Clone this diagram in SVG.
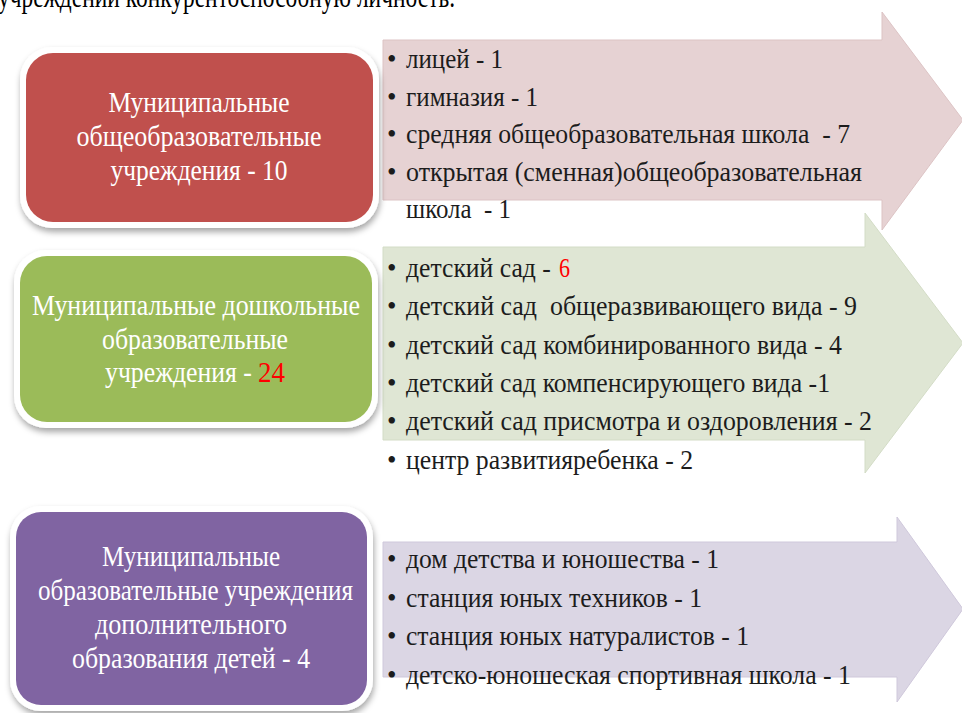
<svg xmlns="http://www.w3.org/2000/svg" width="962" height="713" viewBox="0 0 962 713">
  <defs>
    <filter id="shadow" x="-10%" y="-10%" width="120%" height="130%">
      <feDropShadow dx="1" dy="4" stdDeviation="3" flood-color="#000000" flood-opacity="0.35"/>
    </filter>
  </defs>
  <style>
    text { font-family: "Liberation Serif", "Times New Roman", serif; white-space: pre; }
    .title { font-size: 32px; fill: #000000; }
    .item { font-size: 28px; fill: #1c1c1c; }
    .bullet { font-size: 27px; fill: #1c1c1c; }
    .lbl { font-size: 29px; fill: #ffffff; }
    .num { fill: #ff0000; }
    .frame { fill: #ffffff; filter: url(#shadow); }
    .arrow-pink { fill: #e6d2d3; stroke: #dcc3c4; stroke-width: 1; }
    .arrow-green { fill: #dfe6d4; stroke: #d3dcc6; stroke-width: 1; }
    .arrow-purple { fill: #dbd6e4; stroke: #cfc8db; stroke-width: 1; }
  </style>

  <rect width="962" height="713" fill="#ffffff"/>

  <text class="title" x="-2" y="7" textLength="457" lengthAdjust="spacingAndGlyphs">учреждений конкурентоспособную личность.</text>

  <g id="connectors"/>

  <!-- Arrows (drawn bottom-up so the pink one lies on top) -->
  <g id="arrow-purple">
    <polygon class="arrow-purple" points="383,542 897,542 897,517 963,609 897,702 897,677 383,677"/>
    <text class="bullet" x="387" y="568">•</text>
    <text class="bullet" x="387" y="606.5">•</text>
    <text class="bullet" x="387" y="645">•</text>
    <text class="bullet" x="387" y="683.5">•</text>
    <text class="item" x="406" y="568" textLength="313" lengthAdjust="spacingAndGlyphs">дом детства и юношества - 1</text>
    <text class="item" x="406" y="606.5" textLength="296" lengthAdjust="spacingAndGlyphs">станция юных техников - 1</text>
    <text class="item" x="406" y="645" textLength="343" lengthAdjust="spacingAndGlyphs">станция юных натуралистов - 1</text>
    <text class="item" x="406" y="683.5" textLength="445" lengthAdjust="spacingAndGlyphs">детско-юношеская спортивная школа - 1</text>
  </g>

  <g id="arrow-green">
    <polygon class="arrow-green" points="383,247 865,247 865,213 963,343 865,473 865,440 383,440"/>
    <text class="bullet" x="387" y="277">•</text>
    <text class="bullet" x="387" y="315">•</text>
    <text class="bullet" x="387" y="353.5">•</text>
    <text class="bullet" x="387" y="392">•</text>
    <text class="bullet" x="387" y="430">•</text>
    <text class="bullet" x="387" y="468.5">•</text>
    <text class="item" transform="translate(406,277) scale(0.9,1)" x="0" y="0" textLength="161" lengthAdjust="spacingAndGlyphs">детский сад -</text>
    <text class="item num" x="559" y="277" textLength="11" lengthAdjust="spacingAndGlyphs">6</text>
    <text class="item" x="406" y="315" textLength="451" lengthAdjust="spacingAndGlyphs">детский сад  общеразвивающего вида - 9</text>
    <text class="item" x="406" y="353.5" textLength="436" lengthAdjust="spacingAndGlyphs">детский сад комбинированного вида - 4</text>
    <text class="item" x="406" y="392" textLength="424" lengthAdjust="spacingAndGlyphs">детский сад компенсирующего вида -1</text>
    <text class="item" x="406" y="430" textLength="466" lengthAdjust="spacingAndGlyphs">детский сад присмотра и оздоровления - 2</text>
    <text class="item" x="406" y="468.5" textLength="287" lengthAdjust="spacingAndGlyphs">центр развитияребенка - 2</text>
  </g>

  <g id="arrow-pink">
    <polygon class="arrow-pink" points="383,40 882,40 882,12 963,120 882,230 882,200 383,200"/>
    <text class="bullet" x="387" y="68">•</text>
    <text class="bullet" x="387" y="105.5">•</text>
    <text class="bullet" x="387" y="143">•</text>
    <text class="bullet" x="387" y="180.5">•</text>
    <text class="item" x="406" y="68" textLength="97" lengthAdjust="spacingAndGlyphs">лицей - 1</text>
    <text class="item" x="406" y="105.5" textLength="132" lengthAdjust="spacingAndGlyphs">гимназия - 1</text>
    <text class="item" x="406" y="143" textLength="444" lengthAdjust="spacingAndGlyphs">средняя общеобразовательная школа  - 7</text>
    <text class="item" x="406" y="180.5" textLength="456" lengthAdjust="spacingAndGlyphs">открытая (сменная)общеобразовательная</text>
    <text class="item" x="406" y="218" textLength="105" lengthAdjust="spacingAndGlyphs">школа  - 1</text>
  </g>

  <!-- Category boxes (labels condensed horizontally to match the reference) -->
  <g id="box-general">
    <rect class="frame" x="20" y="47" width="359" height="181" rx="32"/>
    <rect x="26" y="53" width="347" height="169" rx="27" fill="#c0504d"/>
    <text class="lbl" transform="translate(108.5,112) scale(0.88,1)" x="0" y="0" textLength="205.7" lengthAdjust="spacingAndGlyphs">Муниципальные</text>
    <text class="lbl" transform="translate(76.5,146) scale(0.88,1)" x="0" y="0" textLength="278.4" lengthAdjust="spacingAndGlyphs">общеобразовательные</text>
    <text class="lbl" transform="translate(110.5,180) scale(0.88,1)" x="0" y="0" textLength="201.1" lengthAdjust="spacingAndGlyphs">учреждения - 10</text>
  </g>

  <g id="box-preschool">
    <rect class="frame" x="14" y="250" width="364" height="178" rx="32"/>
    <rect x="20" y="256" width="352" height="166" rx="27" fill="#9bbb59"/>
    <text class="lbl" transform="translate(32,315) scale(0.88,1)" x="0" y="0" textLength="372.7" lengthAdjust="spacingAndGlyphs">Муниципальные дошкольные</text>
    <text class="lbl" transform="translate(102,348.5) scale(0.88,1)" x="0" y="0" textLength="211.4" lengthAdjust="spacingAndGlyphs">образовательные</text>
    <text class="lbl" transform="translate(105,382) scale(0.88,1)" x="0" y="0" textLength="167" lengthAdjust="spacingAndGlyphs">учреждения -</text>
    <text class="lbl num" transform="translate(258,382) scale(0.88,1)" x="0" y="0" textLength="30.7" lengthAdjust="spacingAndGlyphs">24</text>
  </g>

  <g id="box-additional">
    <rect class="frame" x="10" y="506" width="363" height="205" rx="31"/>
    <rect x="16" y="512" width="351" height="193" rx="25" fill="#8064a2"/>
    <text class="lbl" transform="translate(102,566) scale(0.88,1)" x="0" y="0" textLength="202.3" lengthAdjust="spacingAndGlyphs">Муниципальные</text>
    <text class="lbl" transform="translate(38,600) scale(0.88,1)" x="0" y="0" textLength="358" lengthAdjust="spacingAndGlyphs">образовательные учреждения</text>
    <text class="lbl" transform="translate(95,634) scale(0.88,1)" x="0" y="0" textLength="218.2" lengthAdjust="spacingAndGlyphs">дополнительного</text>
    <text class="lbl" transform="translate(72,668) scale(0.88,1)" x="0" y="0" textLength="270.5" lengthAdjust="spacingAndGlyphs">образования детей - 4</text>
  </g>
</svg>
